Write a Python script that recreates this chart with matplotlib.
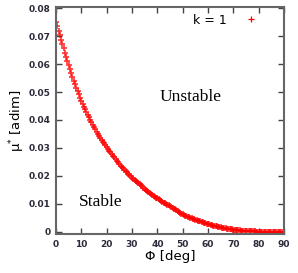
import numpy as np
import matplotlib.pyplot as plt

# friction coefficient, every half degree
phi_deg = np.arange(0, 90.5, 0.5)
mu_star = [
    0.0752, 0.0735, 0.0718, 0.0703, 0.0688, 0.0672, 0.0656, 0.0641, 0.0626, 0.0611,
    0.0596, 0.0582, 0.0568, 0.0554, 0.0541, 0.0528, 0.0516, 0.0504, 0.0492, 0.0480,
    0.0469, 0.0458, 0.0448, 0.0438, 0.0428, 0.0418, 0.0409, 0.0400, 0.0391, 0.0382,
    0.0374, 0.0366, 0.0358, 0.0350, 0.0343, 0.0336, 0.0329, 0.0322, 0.0316, 0.0309,
    0.0303, 0.0296, 0.0290, 0.0284, 0.0278, 0.0272, 0.0266, 0.0260, 0.0254, 0.0248,
    0.0243, 0.0237, 0.0232, 0.0227, 0.0222, 0.0217, 0.0212, 0.0207, 0.0203, 0.0198,
    0.0194, 0.0190, 0.0186, 0.0182, 0.0178, 0.0174, 0.0170, 0.0166, 0.0162, 0.0158,
    0.0154, 0.0150, 0.0146, 0.0142, 0.0139, 0.0135, 0.0132, 0.0128, 0.0125, 0.0122,
    0.0119, 0.0116, 0.0113, 0.0110, 0.0107, 0.0104, 0.0102, 0.0099, 0.0097, 0.0094,
    0.0092, 0.0089, 0.0086, 0.0083, 0.0080, 0.0077, 0.0074, 0.0071, 0.0068, 0.0065,
    0.0063, 0.0060, 0.0058, 0.0056, 0.0054, 0.0052, 0.0050, 0.0048, 0.0046, 0.0044,
    0.0043, 0.0041, 0.0040, 0.0038, 0.0037, 0.0035, 0.0034, 0.0032, 0.0031, 0.0029,
    0.0028, 0.0026, 0.0025, 0.0023, 0.0022, 0.0021, 0.0020, 0.0019, 0.0018, 0.0017,
    0.0016, 0.0015, 0.0014, 0.0013, 0.0012, 0.0011, 0.0010, 0.0009, 0.0009, 0.0008,
    0.0007, 0.0007, 0.0006, 0.0006, 0.0005, 0.0005, 0.0004, 0.0004, 0.0003, 0.0003,
    0.0002, 0.0002, 0.0002, 0.0002, 0.0001, 0.0001, 0.0001, 0.0001, 0.0000, 0.0000,
    0.0000, 0.0000, 0.0000, 0.0000, 0.0000, 0.0000, 0.0000, 0.0000, 0.0000, 0.0000,
    0.0000, 0.0000, 0.0000, 0.0000, 0.0000, 0.0000, 0.0000, 0.0000, 0.0000, 0.0000,
    0.0000,
]
x_ticks = [0, 10, 20, 30, 40, 50, 60, 70, 80, 90]
y_ticks = [0, 0.01, 0.02, 0.03, 0.04, 0.05, 0.06, 0.07, 0.08]
y_tick_labels = ['0', '0.01', '0.02', '0.03', '0.04', '0.05', '0.06', '0.07', '0.08']

fig = plt.figure(figsize=(2.98, 2.73), dpi=100)
ax = fig.add_axes([0.188, 0.143, 0.765, 0.830])

ax.plot(phi_deg, mu_star, linestyle='none', marker='+', color='red',
        markersize=5, markeredgewidth=1.2, alpha=0.8, label='k = 1')

ax.set_xlim(0, 90)
ax.set_ylim(-0.0008, 0.0803)
ax.set_xticks(x_ticks)
ax.set_yticks(y_ticks)
ax.set_yticklabels(y_tick_labels)

for side in ax.spines.values():
    side.set_color('#666666')
    side.set_linewidth(1.5)
ax.tick_params(direction='in', length=4, width=1, color='#444444',
               top=True, right=True, labelsize=6.5, labelcolor='#2b2b3b', pad=4)
for lab in ax.get_xticklabels() + ax.get_yticklabels():
    lab.set_fontweight('bold')

ax.set_xlabel('Φ [deg]', fontsize=9.5, labelpad=1)
ax.set_ylabel('μ$^{*}$ [adim]', fontsize=9.5, labelpad=1)

ax.text(53, 0.0482, 'Unstable', family='Liberation Serif', fontsize=12.5,
        ha='center', va='center')
ax.text(17.5, 0.0108, 'Stable', family='Liberation Serif', fontsize=12.5,
        ha='center', va='center')

leg = ax.legend(loc='upper right', frameon=False, markerfirst=False, fontsize=9,
                handlelength=2.0, handletextpad=0.9, borderaxespad=0.0,
                bbox_to_anchor=(0.93, 0.995))
handle = leg.legend_handles[0]
handle.set_markersize(4)
handle.set_markeredgewidth(0.9)
handle.set_alpha(1.0)

fig.savefig('out.png', dpi=100)
